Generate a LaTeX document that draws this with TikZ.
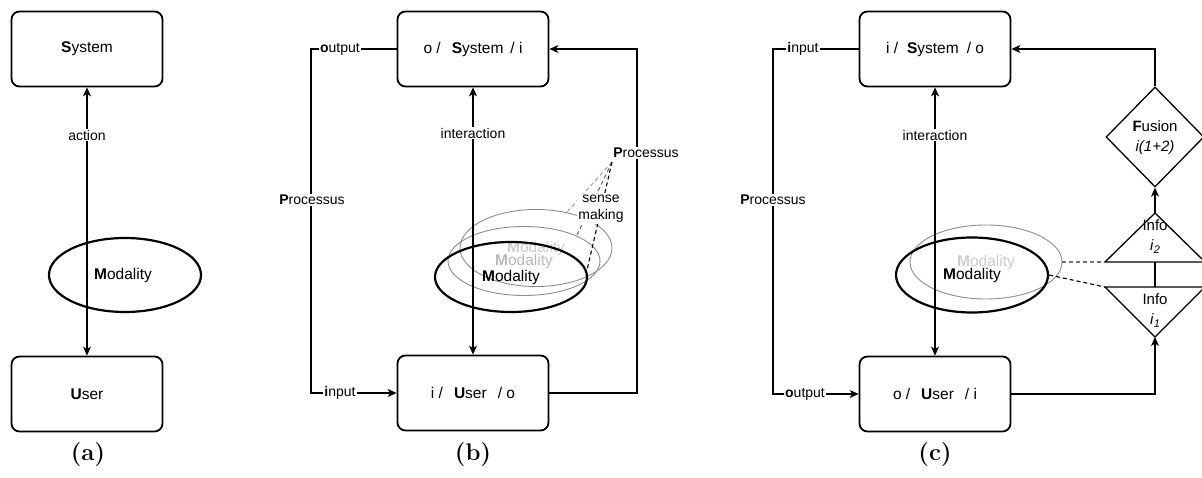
\documentclass[tikz,border=0pt]{standalone}
\usepackage{fontspec}
\newfontfamily\hv{Liberation Sans}
\usetikzlibrary{shapes.geometric,arrows.meta}
\begin{document}
\begin{tikzpicture}[x=1pt,y=-1pt,
  box/.style={draw,line width=1.8pt,rounded corners=8pt,minimum width=151pt,minimum height=75pt,inner sep=0pt,font=\hv\fontsize{15.5}{18}\selectfont},
  conn/.style={line width=1.1pt},
  arr/.style={-{Stealth[length=9pt,width=8pt,inset=2.5pt]}},
  darr/.style={{Stealth[length=9pt,width=8pt,inset=2.5pt]}-{Stealth[length=9pt,width=8pt,inset=2.5pt]}},
  lbl/.style={fill=white,inner sep=1pt,font=\hv\fontsize{14}{16}\selectfont},
  modal/.style={ellipse,draw,line width=2.2pt,minimum width=152pt,minimum height=74pt,inner sep=0pt,font=\hv\fontsize{15.5}{18}\selectfont},
  ghost/.style={ellipse,draw=black!45,line width=0.9pt,minimum width=152pt,minimum height=72pt,inner sep=0pt,font=\hv\fontsize{15.5}{18}\selectfont},
  shapetxt/.style={align=center,inner sep=0pt,font=\hv\fontsize{15}{20}\selectfont},
  polyline/.style={line width=1.3pt,line join=miter},
  dsh/.style={line width=1.1pt,dash pattern=on 4pt off 3pt},
  captionlbl/.style={font=\bfseries\fontsize{24}{24}\selectfont}
]
\useasboundingbox (0,0) rectangle (1202,478);

% ---------- panel (a)
\node[box] (sa) at (87,49) {\textbf{S}ystem};
\node[box] (ua) at (87,394) {\textbf{U}ser};
\node[modal] (ma) at (125,275) {\hspace{-4pt}\textbf{M}odality};
\draw[conn,darr] (sa.south) -- (ua.north);
\node[lbl] (la) at (87,135) {action};
\node[captionlbl] (capa) at (88,455) {(a)};

% ---------- panel (b)
\node[box] (sb) at (473,49) {o /\hspace{11pt}\textbf{S}ystem\hspace{7pt}/ i};
\node[box] (ub) at (473,393) {i /\hspace{11pt}\textbf{U}ser\hspace{11pt}/ o};
\coordinate (b1) at (311,49);
\coordinate (b2) at (311,393);
\coordinate (b3) at (637,393);
\coordinate (b4) at (637,49);
\draw[conn,arr] (sb.west) -- (b1) -- (b2) -- (ub.west);
\draw[conn,arr] (ub.east) -- (b3) -- (b4) -- (sb.east);
\node[lbl] (outb) at (340,49) {\textbf{o}utput};
\node[lbl] (inb) at (340,393) {\textbf{i}nput};
\node[lbl] (prb) at (312,200) {\textbf{P}rocessus};

\node[ghost,minimum height=77pt,text=black!20] (g3) at (536,248) {\textbf{M}odality};
\node[ghost,minimum height=69pt,text=black!28] (g2) at (524,261) {\textbf{M}odality};
\node[modal,minimum height=70pt] (mb) at (511,277) {\textbf{M}odality};
\draw[conn,darr] (sb.south) -- (ub.north);
\node[lbl] (ib) at (473,133) {interaction};

\node[lbl] (prr) at (646,153) {\textbf{P}rocessus};
\coordinate (pp) at (612,162);
\coordinate (e3) at (567,212);
\coordinate (e2) at (577,235);
\coordinate (e1) at (587,270);
\draw[dsh,black!35] (pp) -- (e3);
\draw[dsh,black!55] (pp) -- (e2);
\draw[dsh,black] (pp) -- (e1);
\node[lbl,align=center,font=\hv\fontsize{14}{17}\selectfont] (sm) at (601,209) {sense\\making};
\node[captionlbl] (capb) at (473,455) {(b)};

% ---------- panel (c)
\node[box] (sc) at (935,49) {i /\hspace{9pt}\textbf{S}ystem\hspace{8pt}/ o};
\node[box] (uc) at (935,394) {o /\hspace{11pt}\textbf{U}ser\hspace{11pt}/ i};
\coordinate (c1) at (773,49);
\coordinate (c2) at (773,394);
\draw[conn,arr] (sc.west) -- (c1) -- (c2) -- (uc.west);
\node[lbl] (inc) at (803,49) {\textbf{i}nput};
\node[lbl] (outc) at (805,394) {\textbf{o}utput};
\node[lbl] (prc) at (773,200) {\textbf{P}rocessus};

\node[ghost,minimum height=74pt,text=black!20] (cg) at (986,262) {\textbf{M}odality};
\node[modal,minimum height=75pt] (cm) at (972,275) {\textbf{M}odality};
\draw[conn,darr] (sc.south) -- (uc.north);
\node[lbl] (ic) at (935,135) {interaction};

% fusion diamond
\node[diamond,draw,line width=1.3pt,minimum width=98pt,minimum height=100pt,inner sep=0pt] (fu) at (1155,137) {};
\node[shapetxt] (fut) at (1155,138) {\textbf{F}usion\\\textit{i(1+2)}};
% info triangles
\coordinate (i2l) at (1105,262);
\coordinate (i2t) at (1155,213);
\coordinate (i2r) at (1205,262);
\coordinate (i1l) at (1105,287);
\coordinate (i1b) at (1155,337);
\coordinate (i1r) at (1205,287);
\coordinate (i2m) at (1155,262);
\coordinate (i1m) at (1155,287);
\draw[polyline] (i2l) -- (i2t) -- (i2r) -- cycle;
\draw[polyline] (i1l) -- (i1r) -- (i1b) -- cycle;
\draw[conn] (i2m) -- (i1m);
\node[shapetxt] (i2txt) at (1155,237) {Info\\\textit{i}\raisebox{-3pt}{\fontsize{11}{11}\selectfont\textit{2}}};
\node[shapetxt] (i1txt) at (1155,311) {Info\\\textit{i}\raisebox{-3pt}{\fontsize{11}{11}\selectfont\textit{1}}};

\coordinate (c4) at (1155,49);
\coordinate (c5) at (1155,394);
\draw[conn,arr] (i2t) -- (fu.south);
\draw[conn,arr] (fu.north) -- (c4) -- (sc.east);
\draw[conn,arr] (uc.east) -- (c5) -- (i1b);
\draw[dsh,black!55] (cg.east) -- (i2l);
\draw[dsh,black] (cm.east) -- (i1l);
\node[captionlbl] (capc) at (935,455) {(c)};
\end{tikzpicture}
\end{document}
